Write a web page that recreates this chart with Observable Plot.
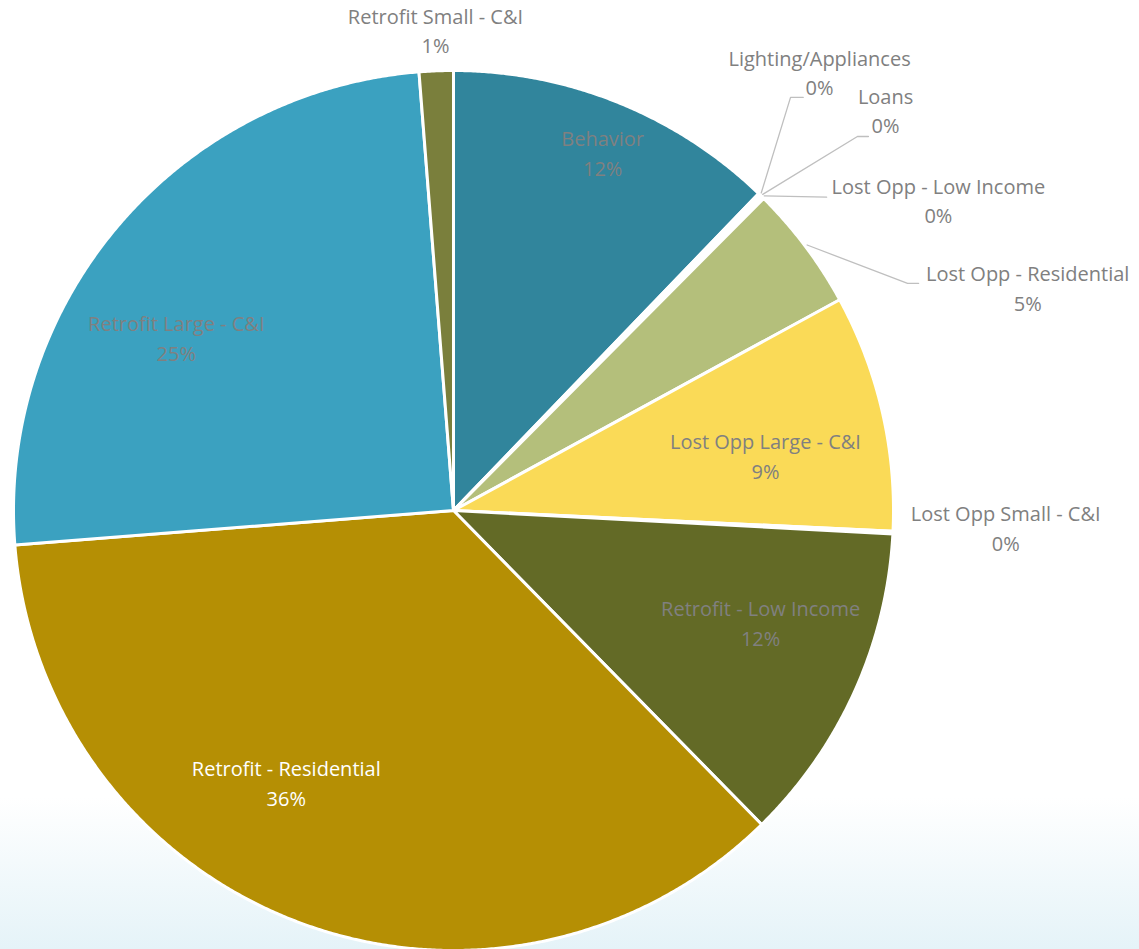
<!DOCTYPE html>
<html>
<head>
<meta charset="utf-8">
<script src="https://cdn.jsdelivr.net/npm/d3@7"></script>
<script src="https://cdn.jsdelivr.net/npm/@observablehq/plot@0.6"></script>
<style>
  html, body { margin: 0; padding: 0; }
  body {
    width: 1139px; height: 949px; overflow: hidden;
    background: linear-gradient(to bottom, #ffffff 0%, #ffffff 84%, #e5f3f8 100%);
  }
  #chart svg { display: block; }
</style>
</head>
<body>
<div id="chart"></div>
<script>
// ---- data ----
const categories = [
  "Behavior",
  "Lighting/Appliances",
  "Loans",
  "Lost Opp - Low Income",
  "Lost Opp - Residential",
  "Lost Opp Large - C&I",
  "Lost Opp Small - C&I",
  "Retrofit - Low Income",
  "Retrofit - Residential",
  "Retrofit Large - C&I",
  "Retrofit Small - C&I"
];
const shares = [12.2, 0.1, 0.05, 0.1, 4.6, 8.7, 0.1, 11.8, 36.1, 25.0, 1.25];

// ---- styles ----
const sliceColors = [
  "#31859c", "#4bacc6", "#8064a2", "#9bbb59",
  "#b4bf7b", "#fada57", "#c0504d", "#636a26",
  "#b58f04", "#3ba1c0", "#7a7f3c"
];
// label anchor positions (in pie-radius units, centre = 0,0)
const labelPos = {
  "Behavior": [0.339, 0.807],
  "Lighting/Appliances": [0.832, 0.990],
  "Loans": [0.982, 0.903],
  "Lost Opp - Low Income": [1.102, 0.699],
  "Lost Opp - Residential": [1.305, 0.500],
  "Lost Opp Large - C&I": [0.709, 0.118],
  "Lost Opp Small - C&I": [1.255, -0.045],
  "Retrofit - Low Income": [0.698, -0.261],
  "Retrofit - Residential": [-0.380, -0.625],
  "Retrofit Large - C&I": [-0.630, 0.386],
  "Retrofit Small - C&I": [-0.041, 1.085]
};
// leader line elbows and ends
const leaderPts = {
  "Lighting/Appliances": [[0.766, 0.939], [0.795, 0.939]],
  "Loans": [[0.918, 0.850], [0.943, 0.850]],
  "Lost Opp - Low Income": [[0.848, 0.712]],
  "Lost Opp - Residential": [[1.032, 0.516], [1.057, 0.516]]
};
const whiteLabels = new Set(["Retrofit - Residential"]);

// ---- geometry from data ----
const total = d3.sum(shares);
const arcs = d3.pie().sort(null).value(d => d).startAngle(0).endAngle(2 * Math.PI)(shares);

const slicePts = [];
arcs.forEach((a, i) => {
  const name = categories[i];
  slicePts.push({name, u: 0, v: 0});
  const n = Math.max(2, Math.ceil((a.endAngle - a.startAngle) / 0.005));
  for (let k = 0; k <= n; k++) {
    const t = a.startAngle + (a.endAngle - a.startAngle) * k / n;
    slicePts.push({name, u: Math.sin(t), v: Math.cos(t)});
  }
});

const leaderData = [];
arcs.forEach((a, i) => {
  const name = categories[i];
  if (!leaderPts[name]) return;
  const mid = (a.startAngle + a.endAngle) / 2;
  leaderData.push({name, u: Math.sin(mid) * 1.005, v: Math.cos(mid) * 1.005});
  leaderPts[name].forEach(p => leaderData.push({name, u: p[0], v: p[1]}));
});

const labels = categories.map((name, i) => ({
  name,
  text: name + "\n" + Math.round(shares[i] / total * 100) + "%",
  u: labelPos[name][0],
  v: labelPos[name][1],
  white: whiteLabels.has(name)
}));

// ---- plot ----
const W = 1139, H = 949, R = 440, cx = 453, cy = 510;
const textOpts = {
  x: "u", y: "v", text: "text",
  fontSize: 20, lineHeight: 1.48, textAnchor: "middle", dy: -4
};
const chart = Plot.plot({
  width: W,
  height: H,
  margin: 0,
  style: {background: "transparent", fontFamily: "'Open Sans', sans-serif"},
  x: {domain: [-cx / R, (W - cx) / R], range: [0, W], axis: null},
  y: {domain: [-(H - cy) / R, cy / R], range: [H, 0], axis: null},
  color: {domain: categories, range: sliceColors},
  marks: [
    Plot.line(slicePts, {
      x: "u", y: "v", z: "name", fill: "name",
      stroke: "white", strokeWidth: 3, strokeLinejoin: "round",
      curve: "linear-closed"
    }),
    Plot.line(leaderData, {
      x: "u", y: "v", z: "name", stroke: "#bfbfbf", strokeWidth: 1.3
    }),
    Plot.text(labels.filter(d => !d.white), {...textOpts, fill: "#808080"}),
    Plot.text(labels.filter(d => d.white), {...textOpts, fill: "#ffffff"})
  ]
});
document.getElementById("chart").appendChild(chart);
</script>
</body>
</html>
